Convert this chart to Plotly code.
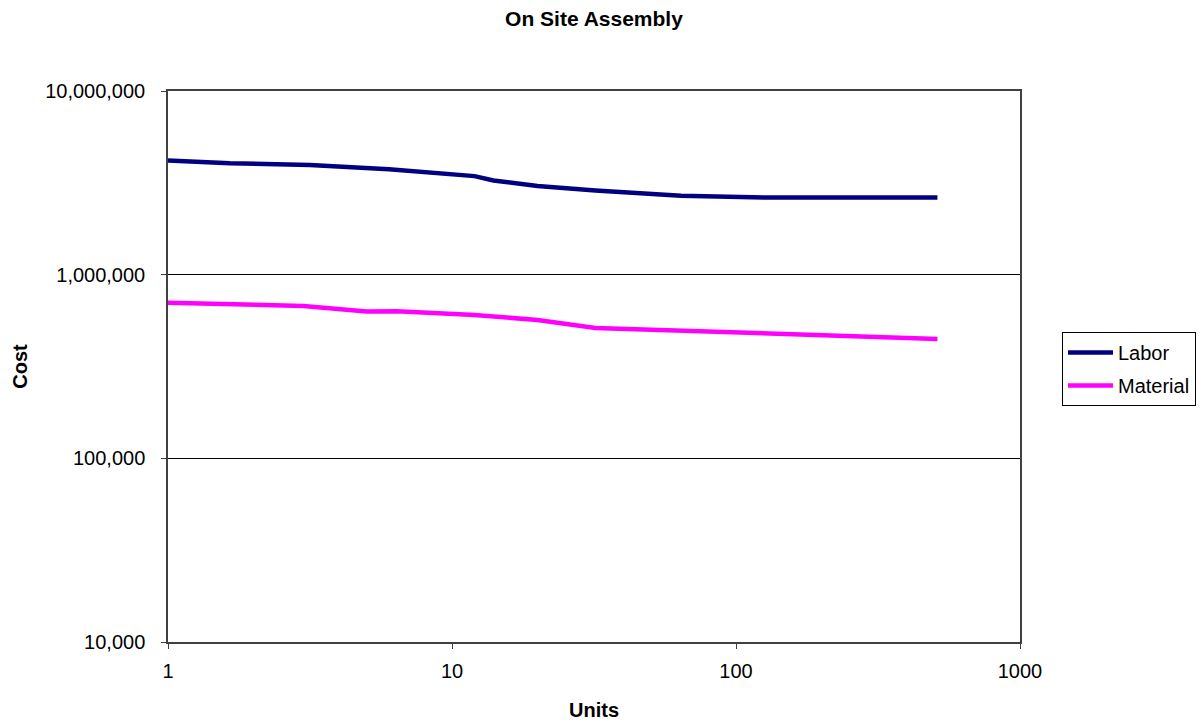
import plotly.graph_objects as go

# Units produced (log scale) and cost per series
labor_units = [1, 1.65, 3.16, 6, 12, 14, 20, 32, 64, 128, 512]
labor_cost = [4180000, 4040000, 3960000, 3750000, 3440000, 3260000, 3040000,
              2870000, 2690000, 2630000, 2630000]

material_units = [1, 3, 5, 6.4, 12, 20, 32, 64, 128, 512]
material_cost = [704000, 675000, 630000, 632000, 603000, 567000, 513000,
                 494000, 480000, 447000]

x_ticks = [1, 10, 100, 1000]
x_tick_text = ["1", "10", "100", "1000"]
y_ticks = [10000, 100000, 1000000, 10000000]
y_tick_text = ["10,000", "100,000", "1,000,000", "10,000,000"]

FONT = "Arial, Liberation Sans, sans-serif"

fig = go.Figure()
fig.add_trace(go.Scatter(
    x=labor_units, y=labor_cost, mode="lines", name="Labor",
    legendgroup="labor",
    line=dict(color="#000080", width=4.5),
))
fig.add_trace(go.Scatter(
    x=material_units, y=material_cost, mode="lines", name="Material",
    legendgroup="material",
    line=dict(color="#FF00FF", width=4.5),
))

fig.update_layout(
    width=1202, height=723,
    margin=dict(l=168, r=182, t=91, b=81, autoexpand=False),
    paper_bgcolor="white", plot_bgcolor="white",
    font=dict(family=FONT, size=20, color="black"),
    title=dict(text="<b>On Site Assembly</b>", x=0.5, xanchor="center",
               xref="paper", y=1 - 19 / 723, yanchor="middle",
               font=dict(size=21)),
    legend=dict(x=(1062 - 168) / 852, xanchor="left",
                y=(642 - 332) / 551, yanchor="top",
                bordercolor="black", borderwidth=1,
                itemwidth=45,
                tracegroupgap=4, font=dict(size=20)),
    showlegend=True,
)

fig.update_xaxes(
    type="log", range=[0, 3], automargin=False,
    tickvals=x_ticks, ticktext=x_tick_text,
    showgrid=False, zeroline=False,
    showline=True, linecolor="#404040", linewidth=1.5, mirror=True,
    ticks="outside", ticklen=5, tickcolor="#404040",
    ticklabelstandoff=5,
    title=dict(text="<b>Units</b>", standoff=22, font=dict(size=20)),
)
fig.update_yaxes(
    type="log", range=[4, 7], automargin=False,
    tickvals=y_ticks, ticktext=y_tick_text,
    showgrid=True, gridcolor="black", gridwidth=1,
    zeroline=False,
    showline=True, linecolor="#404040", linewidth=1.5, mirror=True,
    ticks="outside", ticklen=5, tickcolor="#404040",
    ticklabelstandoff=12,
    title=dict(text="<b>Cost</b>", standoff=12, font=dict(size=20)),
)

fig.write_html("out.html")
